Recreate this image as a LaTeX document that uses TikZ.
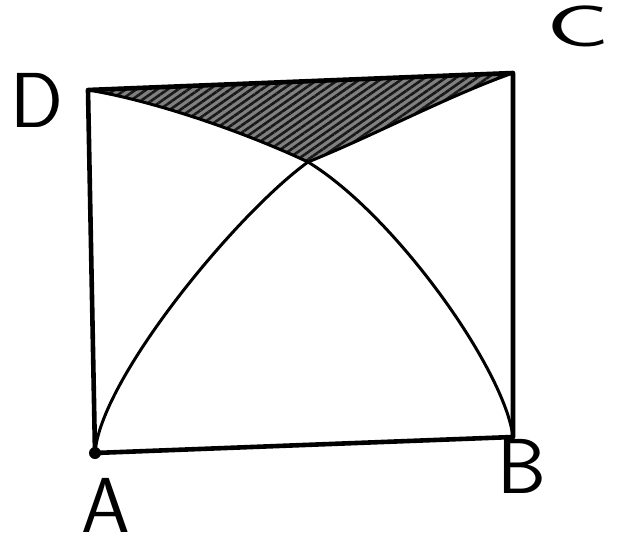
\documentclass[tikz,border=0pt]{standalone}
\usetikzlibrary{patterns.meta}
\tikzset{
  side/.style={line width=4.6pt,line cap=round,line join=round},
  arcline/.style={line width=3pt,line cap=round},
  lbl/.style={font=\sffamily\fontsize{78}{78}\selectfont,inner sep=0pt}
}
\begin{document}
\begin{tikzpicture}[x=1pt,y=-1pt]
  \useasboundingbox (0,0) rectangle (619,551);
  % corners of the square and the meeting point of the arcs
  \coordinate (A) at (95,453);
  \coordinate (B) at (513,437);
  \coordinate (C) at (513,73);
  \coordinate (D) at (88,90);
  \coordinate (X) at (308,162);
  % shaded part under DC
  \fill[black!50] (D) -- (C) .. controls (450,95) and (375,135) .. (X)
    .. controls (240,130) and (150,100) .. (D) -- cycle;
  \path[pattern={Lines[angle=35,distance=6pt,line width=2.6pt]},pattern color=black!90]
    (D) -- (C) .. controls (450,95) and (375,135) .. (X)
    .. controls (240,130) and (150,100) .. (D) -- cycle;
  % the two arcs
  \draw[arcline] (A) .. controls (100,380) and (235,215) .. (X)
    .. controls (375,135) and (450,95) .. (C);
  \draw[arcline] (B) .. controls (505,370) and (395,215) .. (X)
    .. controls (240,130) and (150,100) .. (D);
  % the square
  \draw[side] (A) -- (B) -- (C) -- (D) -- cycle;
  \fill (A) circle (6);
  % labels
  \node[lbl] (labA) at (106,505) {A};
  \node[lbl] (labB) at (522,466) {B};
  \node[lbl,xscale=1.35,yscale=0.75] (labC) at (578,26) {C};
  \node[lbl] (labD) at (37,100) {D};
\end{tikzpicture}
\end{document}
